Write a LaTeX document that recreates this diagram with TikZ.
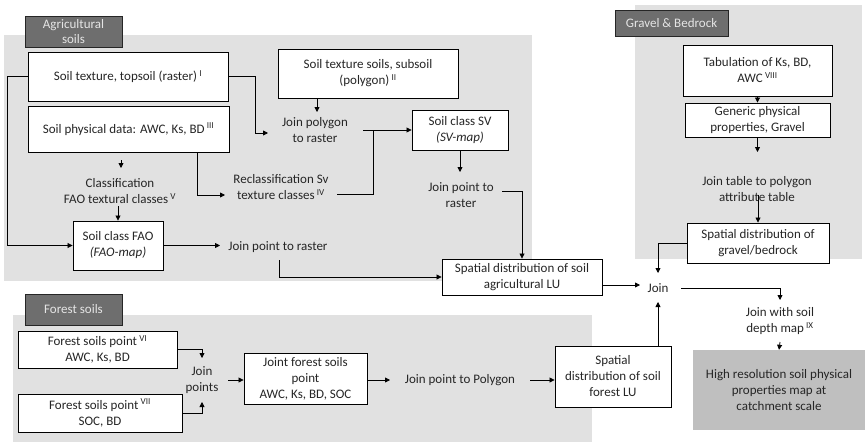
\documentclass[tikz,border=0pt]{standalone}
\usepackage{fontspec}
\setmainfont{Carlito}
\usetikzlibrary{arrows.meta}
\definecolor{regiongrey}{HTML}{E1E1E1}
\definecolor{labelgrey}{HTML}{6E6E6E}
\definecolor{resultgrey}{HTML}{BFBFBF}
\definecolor{txt}{HTML}{262626}
\tikzset{
  every node/.style={font=\fontsize{13}{16}\selectfont, text=txt},
  region/.style={fill=regiongrey, draw=none},
  box/.style={draw=black, fill=white, line width=0.9pt, align=center, inner sep=1pt},
  label box/.style={draw=black!85, fill=labelgrey, line width=0.9pt, align=center, inner sep=0pt, text=white!90!black},
  result/.style={fill=resultgrey, draw=none, align=center, inner sep=1pt},
  plain/.style={align=center, inner sep=1pt},
  conn/.style={draw=black, line width=0.8pt},
  arr/.style={conn, -{Triangle[length=5pt,width=5pt]}},
}
\begin{document}
\begin{tikzpicture}[x=1pt,y=-1pt]
\useasboundingbox (0,0) rectangle (866,444);
% regions
\path[region] (4,35) rectangle (532,281);
\path[region] (635,5) rectangle (862,259);
\path[region] (13,315) rectangle (592,442);
% labels
\node[label box, minimum width=97, minimum height=31] (agrilabel) at (73.5,31.5) {Agricultural\\[-1pt]soils};
\node[label box, minimum width=113, minimum height=26] (gravellabel) at (671.5,23) {Gravel \& Bedrock};
\node[label box, minimum width=97, minimum height=31] (forestlabel) at (73.5,309.5) {Forest soils};
% agricultural boxes
\node[box, minimum width=200, minimum height=49] (topsoil) at (128,76.5) {Soil texture, topsoil (raster)\,\textsuperscript{I}};
\node[box, minimum width=201, minimum height=46] (phys) at (128.5,129) {Soil physical data: AWC, Ks, BD\,\textsuperscript{III}};
\node[box, minimum width=180, minimum height=49] (subsoil) at (368,73.5) {Soil texture soils, subsoil\\(polygon)\,\textsuperscript{II}};
\node[box, minimum width=96, minimum height=40] (sv) at (460,130) {Soil class SV\\\textit{(SV-map)}};
\node[box, minimum width=90, minimum height=49] (fao) at (118,245.5) {Soil class FAO\\\textit{(FAO-map)}};
\node[box, minimum width=160, minimum height=36] (agri) at (522,277) {Spatial distribution of soil\\agricultural LU};
\node[plain] (joinpoly) at (315,130) {Join polygon\\to raster};
\node[plain] (reclass) at (281,187) {Reclassification Sv\\texture classes\,\textsuperscript{IV}};
\node[plain] (classif) at (120,191) {Classification\\FAO textural classes\,\textsuperscript{V}};
\node[plain] (jpr1) at (278,247) {Join point to raster};
\node[plain] (jpr2) at (461,195) {Join point to\\raster};
% gravel
\node[box, minimum width=149, minimum height=51] (tab) at (757.5,70.5) {Tabulation of Ks, BD,\\AWC\,\textsuperscript{VIII}};
\node[box, minimum width=145, minimum height=34] (generic) at (757.5,120) {Generic physical\\properties, Gravel};
\node[plain] (jointable) at (757,189) {Join table to polygon\\attribute table};
\node[box, minimum width=142, minimum height=40] (gravel) at (758,243) {Spatial distribution of\\gravel/bedrock};
% join
\node[plain] (join) at (658,288) {Join};
\node[plain] (joindepth) at (780,321) {Join with soil\\depth map\,\textsuperscript{IX}};
\node[result, minimum width=172, minimum height=80] (hires) at (779,390) {High resolution soil physical\\properties map at\\catchment scale};
% forest
\node[box, minimum width=159, minimum height=37] (fvi) at (97.5,349.5) {Forest soils point\,\textsuperscript{VI}\\AWC, Ks, BD};
\node[box, minimum width=164, minimum height=38] (fvii) at (100,413) {Forest soils point\,\textsuperscript{VII}\\SOC, BD};
\node[plain] (joinpoints) at (202,380) {Join\\points};
\node[box, minimum width=123, minimum height=51] (joint) at (305.5,378.5) {Joint forest soils\\point\\AWC, Ks, BD, SOC};
\node[plain] (jptp) at (460,380) {Join point to Polygon};
\node[box, minimum width=116, minimum height=61] (forestlu) at (613,376.5) {Spatial\\distribution of soil\\forest LU};
% connectors agricultural
\draw[arr] (topsoil.west) -- (7,76.5) -- (7,245.5) -- (fao.west);
\draw[arr] (topsoil.east) -- (255,76.5) -- (255,133) -- (268,133);
\draw[arr] (subsoil.south -| 317,0) -- (317,112);
\draw[arr] (363,130) -- (sv.west);
\draw[conn] (337,194) -- (373,194) -- (373,130);
\draw[arr] (phys.south -| 197,0) -- (197,195) -- (225,195);
\draw[arr] (121,160) -- (121,168);
\draw[arr] (118,206) -- (fao.north -| 118,0);
\draw[arr] (fao.east) -- (220,245.5);
\draw[arr] (279,260) -- (279,277) -- (agri.west);
\draw[arr] (sv.south) -- (460,172);
\draw[arr] (502,191) -- (522,191) -- (agri.north);
% connectors gravel
\draw[arr] (tab.south) -- (generic.north);
\draw[arr] (generic.south) -- (757.5,152);
\draw[arr] (758,195) -- (gravel.north);
\draw[arr] (gravel.west) -- (658,243) -- (658,273);
% join connectors
\draw[arr] (agri.east |- 0,285) -- (640,285);
\draw[arr] (forestlu.north -| 658,0) -- (658,302);
\draw[arr] (681,288) -- (780,288) -- (780,300);
\draw[arr] (780,342) -- (hires.north);
% forest connectors
\draw[arr] (fvi.east) -- (202,349.5) -- (202,358);
\draw[arr] (fvii.east) -- (202,413) -- (202,402);
\draw[arr] (228,380) -- (joint.west |- 0,380);
\draw[arr] (joint.east |- 0,380) -- (390,380);
\draw[arr] (530,380) -- (forestlu.west |- 0,380);
\end{tikzpicture}
\end{document}
